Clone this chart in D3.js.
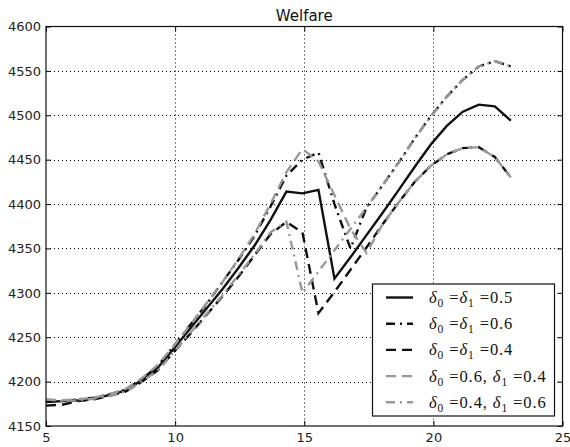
<!DOCTYPE html>
<html>
<head>
<meta charset="utf-8">
<script src="https://cdnjs.cloudflare.com/ajax/libs/d3/7.8.5/d3.min.js"></script>
<style>
  body { margin: 0; background: #fff; }
  svg { display: block; }
</style>
</head>
<body>
<svg id="chart" width="570" height="447"></svg>
<script>
// x values for every series (30 steps from 5 to 23)
let steps = [5.00, 5.62, 6.24, 6.86, 7.48, 8.10, 8.72, 9.34, 9.97, 10.59,
             11.21, 11.83, 12.45, 13.07, 13.69, 14.31, 14.93, 15.55, 16.17, 16.79,
             17.41, 18.03, 18.66, 19.28, 19.90, 20.52, 21.14, 21.76, 22.38, 23.00];

let welfare_05_05 = [4177, 4178, 4179, 4181, 4185, 4190, 4202, 4216, 4238, 4260,
                     4282, 4304, 4328, 4353, 4382, 4414, 4412, 4416, 4316, 4340,
                     4365, 4390, 4416, 4442, 4467, 4488, 4504, 4512, 4510, 4494];

let welfare_06_06 = [4178, 4178, 4180, 4182, 4186, 4191, 4203, 4218, 4241, 4264,
                     4287, 4312, 4337, 4364, 4397, 4432, 4450, 4458, 4400, 4350,
                     4396, 4421, 4447, 4474, 4499, 4521, 4540, 4555, 4561, 4555];

let welfare_04_04 = [4173, 4174, 4178, 4180, 4184, 4189, 4200, 4213, 4234, 4254,
                     4275, 4296, 4318, 4342, 4366, 4380, 4368, 4277, 4301, 4326,
                     4351, 4377, 4402, 4425, 4443, 4456, 4463, 4464, 4453, 4430];

let welfare_06_04 = [4180, 4179, 4180, 4182, 4186, 4192, 4204, 4219, 4241, 4264,
                     4288, 4312, 4338, 4366, 4400, 4436, 4462, 4448, 4410, 4372,
                     4345, 4377, 4402, 4425, 4443, 4456, 4463, 4464, 4453, 4430];

let welfare_04_06 = [4180, 4178, 4179, 4181, 4184, 4189, 4200, 4213, 4234, 4255,
                     4276, 4297, 4320, 4343, 4368, 4380, 4300, 4324, 4348, 4372,
                     4396, 4421, 4447, 4474, 4499, 4521, 4540, 4555, 4561, 4555];

let x_ticks = [5, 10, 15, 20, 25];
let y_ticks = [4150, 4200, 4250, 4300, 4350, 4400, 4450, 4500, 4550, 4600];

// legend labels: delta0, delta1 ; equal values print as d0 = d1 = v
let series = [
    {d0: "0.5", d1: "0.5", values: welfare_05_05, color: "#111", dash: null},
    {d0: "0.6", d1: "0.6", values: welfare_06_06, color: "#111", dash: "9,5,2,5"},
    {d0: "0.4", d1: "0.4", values: welfare_04_04, color: "#111", dash: "10,6"},
    {d0: "0.6", d1: "0.4", values: welfare_06_04, color: "#999", dash: "10,6"},
    {d0: "0.4", d1: "0.6", values: welfare_04_06, color: "#999", dash: "9,5,2,5"}
];

let chart = d3.select("#chart");
let m_left = 46, m_right = 562.5, m_top = 26.5, m_bottom = 426;

let x = d3.scaleLinear().domain([5, 25]).range([m_left, m_right]);
let y = d3.scaleLinear().domain([4150, 4600]).range([m_bottom, m_top]);

//dotted grid
let grid = chart.append("g");
grid.selectAll("gx")
    .data(x_ticks.slice(1, -1))
    .enter()
    .append("line")
        .attr("x1", d => Math.round(x(d)) + 0.5).attr("x2", d => Math.round(x(d)) + 0.5)
        .attr("y1", m_top).attr("y2", m_bottom)
        .attr("stroke", "#000").attr("stroke-width", 1)
        .attr("stroke-dasharray", "1,3");
grid.selectAll("gy")
    .data(y_ticks.slice(1, -1))
    .enter()
    .append("line")
        .attr("x1", m_left).attr("x2", m_right)
        .attr("y1", d => Math.round(y(d)) + 0.5).attr("y2", d => Math.round(y(d)) + 0.5)
        .attr("stroke", "#000").attr("stroke-width", 1)
        .attr("stroke-dasharray", "1,3");

//lines
let line = d3.line()
    .x((d, i) => x(steps[i]))
    .y(d => y(d));

series.forEach(function(s) {
    chart.append("path")
        .datum(s.values)
        .attr("d", line)
        .attr("fill", "none")
        .attr("stroke", s.color)
        .attr("stroke-width", 2.4)
        .attr("stroke-dasharray", s.dash);
});

//axes: ticks point inward on all four sides
let tick_len = 5;
chart.append("g")
    .attr("transform", "translate(0," + m_bottom + ")")
    .call(d3.axisBottom(x).tickValues(x_ticks).tickFormat(d3.format("d"))
        .tickSizeInner(-tick_len).tickSizeOuter(0).tickPadding(7))
    .call(g => g.select(".domain").remove());
chart.append("g")
    .attr("transform", "translate(0," + m_top + ")")
    .call(d3.axisTop(x).tickValues(x_ticks).tickSizeInner(-tick_len).tickSizeOuter(0).tickFormat(""))
    .call(g => g.select(".domain").remove());
chart.append("g")
    .attr("transform", "translate(" + m_left + ",0)")
    .call(d3.axisLeft(y).tickValues(y_ticks).tickFormat(d3.format("d"))
        .tickSizeInner(-tick_len).tickSizeOuter(0).tickPadding(5))
    .call(g => g.select(".domain").remove());
chart.append("g")
    .attr("transform", "translate(" + m_right + ",0)")
    .call(d3.axisRight(y).tickValues(y_ticks).tickSizeInner(-tick_len).tickSizeOuter(0).tickFormat(""))
    .call(g => g.select(".domain").remove());

chart.selectAll(".tick text")
    .attr("font-family", "DejaVu Sans")
    .attr("font-size", "13px")
    .attr("fill", "#222");
chart.selectAll(".tick line").attr("stroke", "#000");

//frame
chart.append("rect")
    .attr("x", m_left).attr("y", m_top)
    .attr("width", m_right - m_left).attr("height", m_bottom - m_top)
    .attr("fill", "none").attr("stroke", "#111").attr("stroke-width", 1.2);

//title
chart.append("text")
    .attr("x", (m_left + m_right) / 2)
    .attr("y", 21)
    .attr("text-anchor", "middle")
    .attr("font-family", "DejaVu Sans")
    .attr("font-size", "15px")
    .attr("fill", "#111")
    .text("Welfare");

//legend
let lg = chart.append("g");
lg.append("rect")
    .attr("x", 372.5).attr("y", 284)
    .attr("width", 182).attr("height", 132)
    .attr("fill", "#fff").attr("stroke", "#111").attr("stroke-width", 1.2);

series.forEach(function(s, i) {
    let ry = 297.5 + i * 26.2;
    lg.append("line")
        .attr("x1", 386).attr("x2", 413)
        .attr("y1", ry).attr("y2", ry)
        .attr("stroke", s.color)
        .attr("stroke-width", 2.4)
        .attr("stroke-dasharray", s.dash);

    let t = lg.append("text")
        .attr("x", 429).attr("y", ry + 5.5)
        .attr("font-family", "Liberation Serif")
        .attr("font-size", "16.5px")
        .attr("letter-spacing", "0.9px")
        .attr("fill", "#111");
    t.append("tspan").attr("font-style", "italic").text("δ");
    t.append("tspan").attr("font-size", "11.5px").attr("dy", 4).text("0");
    if (s.d0 === s.d1) {
        t.append("tspan").attr("dy", -4).text(" =");
        t.append("tspan").attr("font-style", "italic").text("δ");
        t.append("tspan").attr("font-size", "11.5px").attr("dy", 4).text("1");
        t.append("tspan").attr("dy", -4).text(" =" + s.d0);
    } else {
        t.append("tspan").attr("dy", -4).text(" =" + s.d0 + ", ");
        t.append("tspan").attr("font-style", "italic").text("δ");
        t.append("tspan").attr("font-size", "11.5px").attr("dy", 4).text("1");
        t.append("tspan").attr("dy", -4).text(" =" + s.d1);
    }
});
</script>
</body>
</html>
